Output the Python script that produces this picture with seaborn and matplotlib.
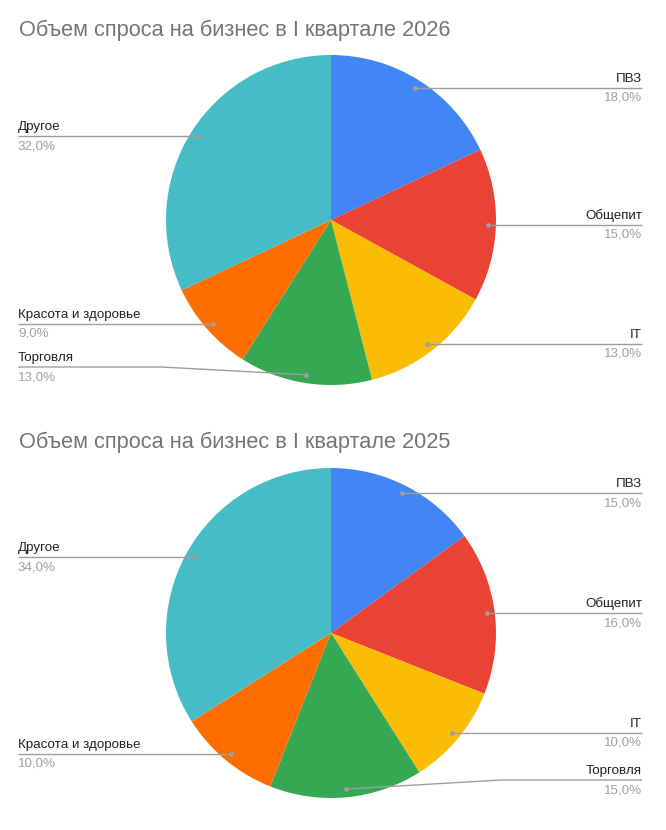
import numpy as np
import matplotlib.pyplot as plt
import seaborn as sns
from matplotlib import transforms

# chart data
categories = ['ПВЗ', 'Общепит', 'IT', 'Торговля', 'Красота и здоровье', 'Другое']
share_2026 = [18.0, 15.0, 13.0, 13.0, 9.0, 32.0]
share_2025 = [15.0, 16.0, 10.0, 15.0, 10.0, 34.0]
titles = ['Объем спроса на бизнес в I квартале 2026',
          'Объем спроса на бизнес в I квартале 2025']
colors = ['#4285F4', '#EA4335', '#FBBC04', '#34A853', '#FF6D01', '#46BDC6']

# layout in pixels
W, H = 666, 830
PANEL_H = 415
R = 165           # pie radius
CX = 331          # pie center x
TEXT_LEFT = 18
TEXT_RIGHT = 642
LINE_C = '#9e9e9e'

sns.set_theme(style='white')
plt.rcParams['font.family'] = ['Liberation Sans', 'DejaVu Sans']


def draw_pie(fig, bottom_px, cy, title_y, values, title):
    ax = fig.add_axes([0, bottom_px / H, 1, PANEL_H / H])
    ax.pie(values, colors=colors, startangle=90, counterclock=False,
           radius=1, wedgeprops=dict(linewidth=0))
    # data limits so that 1 unit == R pixels
    ax.set_xlim(-CX / R, (W - CX) / R)
    ax.set_ylim(-(PANEL_H - cy) / R, cy / R)
    ax.set_aspect('auto')
    ax.axis('off')

    fig.text(19 / W, (bottom_px + PANEL_H - title_y) / H, title,
             fontsize=15.7, color='#757575', va='center', ha='left')

    x_left = (TEXT_LEFT - CX) / R
    x_right = (TEXT_RIGHT - CX) / R
    y_min = -(1 - 18 / R)
    up = transforms.offset_copy(ax.transData, fig=fig, y=3, units='dots')
    down = transforms.offset_copy(ax.transData, fig=fig, y=-4, units='dots')

    total = sum(values)
    start = 0
    for name, v in zip(categories, values):
        mid = (start + v / 2) / total * 2 * np.pi
        start += v
        dx, dy = 0.95 * np.sin(mid), 0.95 * np.cos(mid)
        right = dx > 0
        tx = x_right if right else x_left
        ly = max(dy, y_min)
        if ly != dy:
            ex = 1.03 if right else -1.03
            xs, ys = [tx, ex, dx], [ly, ly, dy]
        else:
            xs, ys = [tx, dx], [ly, dy]
        ax.plot(xs, ys, color=LINE_C, lw=1, solid_capstyle='butt')
        ax.plot([dx], [dy], 'o', color=LINE_C, ms=3.5, mec='none')
        ha = 'right' if right else 'left'
        ax.text(tx, ly, name, transform=up, ha=ha, va='bottom',
                fontsize=9.6, color='#222222')
        ax.text(tx, ly, f'{v:.1f}%'.replace('.', ','), transform=down,
                ha=ha, va='top', fontsize=9.6, color='#a0a0a0')


fig = plt.figure(figsize=(W / 100, H / 100), dpi=100)
draw_pie(fig, PANEL_H, 220, 30, share_2026, titles[0])
draw_pie(fig, 0, 218, 27, share_2025, titles[1])
fig.savefig('out.png', dpi=100, facecolor='white')
